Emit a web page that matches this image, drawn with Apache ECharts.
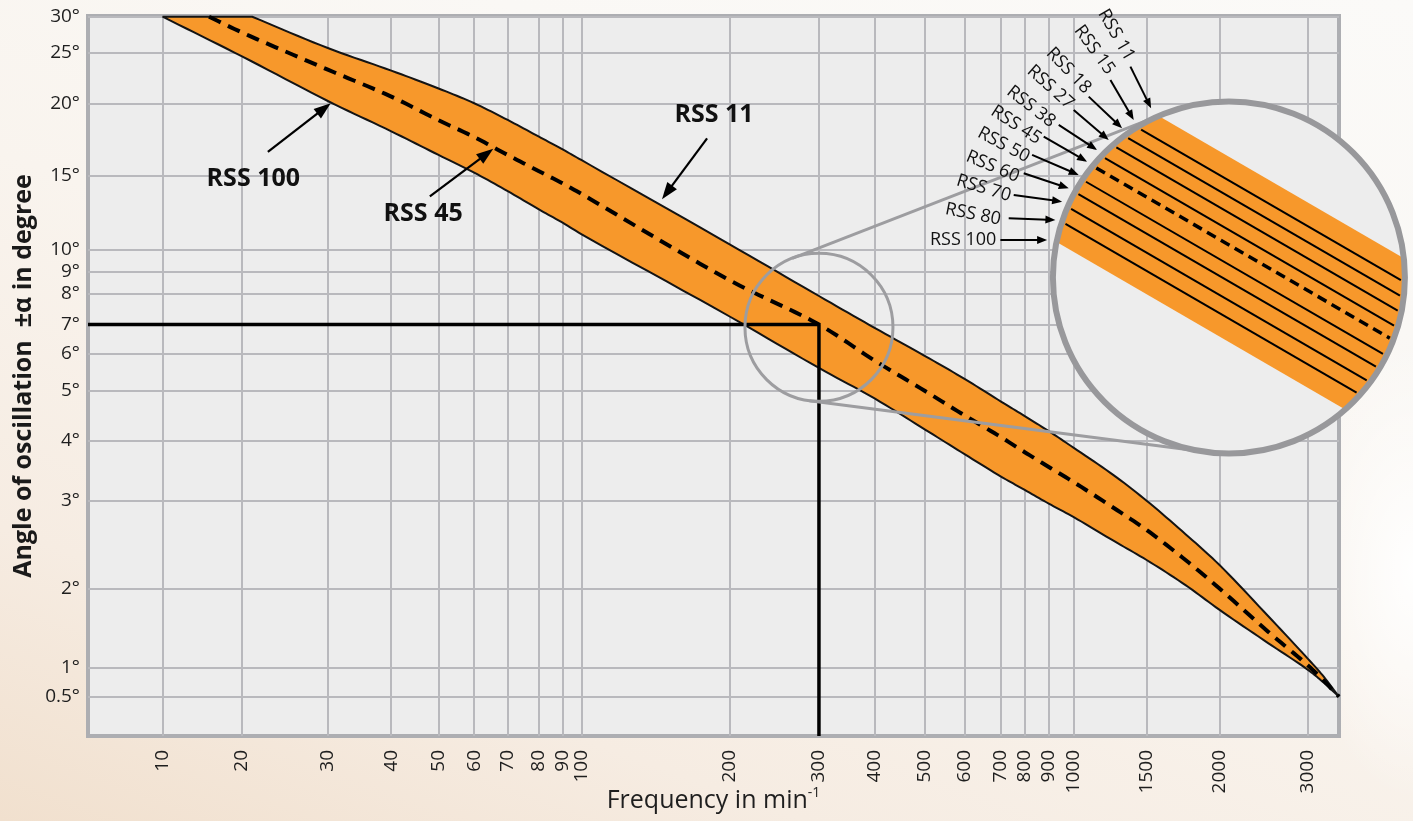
<!DOCTYPE html>
<html>
<head>
<meta charset="utf-8">
<script src="https://cdn.jsdelivr.net/npm/echarts@6/dist/echarts.min.js"></script>
<style>
html,body{margin:0;padding:0;width:1413px;height:821px;overflow:hidden;}
body{background:
  radial-gradient(ellipse 110px 230px at 1413px 570px, rgba(255,255,255,0.95), rgba(255,255,255,0) 100%),
  linear-gradient(20deg,#f1e0ce 0%,#f6ece2 22%,#f9f4ee 50%,#faf8f5 75%,#fbfaf8 100%);}
#chart{width:1413px;height:821px;}
</style>
</head>
<body>
<div id="chart"></div>
<script>
// ---------------- data ----------------
// tick labels
const freqTicks  = [10,20,30,40,50,60,70,80,90,100,200,300,400,500,600,700,800,900,1000,1500,2000,3000];
const angleTicks = [0.5,1,2,3,4,5,6,7,8,9,10,15,20,25,30];

// non-uniform nomogram scales: axis value -> percent along the axis
const freqScaleValues  = [5,10,20,30,40,50,60,70,80,90,100,200,300,400,500,600,700,800,900,1000,1500,2000,3000,3450];
const freqScalePct     = [0,5.96,12.31,19.17,24.24,28.02,30.87,33.55,36.01,37.94,39.43,51.29,58.43,62.91,66.91,70.10,72.98,74.88,76.80,78.80,84.62,90.43,97.52,100];
const angleScaleValues = [0.25,0.5,1,2,3,4,5,6,7,8,9,10,15,20,25,30];
const angleScalePct    = [0,5.46,9.49,20.51,32.68,40.97,47.92,53.06,57.15,61.39,64.49,67.54,77.78,87.88,94.90,99.9];

// curves: [frequency min^-1, angle deg]
const rss11  = [[21,30],[30,25.6],[40,23.1],[50,21.35],[60,20.0],[70,18.72],[80,17.54],[90,16.66],[100,15.98],[200,10.3],[300,7.93],[400,6.87],[500,5.94],[600,5.3],[700,4.77],[800,4.47],[900,4.18],[1000,3.87],[1250,3.39],[1500,3.0],[1750,2.57],[2000,2.23],[2500,1.57],[3000,1.08],[3200,0.84],[3450,0.5]];
const rss45  = [[15,30],[20,27.7],[30,23.2],[40,20.6],[50,18.7],[60,17.5],[70,16.3],[80,15.3],[90,14.4],[100,13.6],[200,8.6],[300,7.0],[400,5.8],[500,5.0],[600,4.48],[700,4.07],[800,3.79],[900,3.53],[1000,3.28],[1250,2.9],[1500,2.62],[1750,2.28],[2000,2.0],[2500,1.37],[3000,1.02],[3200,0.76],[3450,0.5]];
const rss100 = [[10,30],[20,24.6],[30,20.2],[40,17.9],[50,16.3],[60,15.2],[70,13.8],[80,12.5],[90,11.6],[100,10.9],[200,7.25],[300,5.6],[400,4.83],[500,4.21],[600,3.75],[700,3.37],[800,3.16],[900,2.96],[1000,2.78],[1250,2.49],[1500,2.28],[1750,2.03],[2000,1.66],[2500,1.24],[3000,0.95],[3200,0.72],[3450,0.5]];

// reading example: 300 min^-1 -> 7 deg
const refPoint = [300, 7];

// curve annotations (data units)
const noteNames     = ['RSS 100','RSS 45','RSS 11'];
const noteLabelAt   = [[21.1,14.8],[46.5,12.2],[186,19.1]];
const noteArrowFrom = [[22.6,16.5],[48.0,13.4],[180,17.4]];
const noteArrowTo   = [[30.4,20.0],[65.5,16.7],[145.8,13.2]];

// magnifier: spot that is magnified and where the lens sits (data units)
const lensSpot = [300, 6.9];
const lensAt   = [2090, 8.73];
const lensNames = ['RSS 11','RSS 15','RSS 18','RSS 27','RSS 38','RSS 45','RSS 50','RSS 60','RSS 70','RSS 80','RSS 100'];

// ---------------- layout / style (pixels, relative to lens centre) ----------------
const lensLabelLayout = [
  {t:[-112.7,-242.5],r:60,f:[-98.5,-210.8],to:[-77.8,-169.2]},
  {t:[-134.5,-227.5],r:54,f:[-118.5,-197.5],to:[-95.2,-157.5]},
  {t:[-160.2,-206.8],r:46,f:[-140.2,-180.8],to:[-106.8,-149.2]},
  {t:[-178.5,-190.2],r:42,f:[-155.2,-167.5],to:[-120.2,-137.5]},
  {t:[-197.8,-170.8],r:38,f:[-170.2,-152.5],to:[-131.8,-127.5]},
  {t:[-212.8,-152.5],r:33,f:[-185.2,-140.8],to:[-141.8,-115.8]},
  {t:[-225.2,-132.5],r:28,f:[-196.8,-122.5],to:[-150.2,-102.5]},
  {t:[-236.2,-110.8],r:23,f:[-205.2,-104.2],to:[-160.2,-89.2]},
  {t:[-245.2,-89.2], r:17,f:[-215.2,-82.5], to:[-166.8,-75.8]},
  {t:[-255.8,-63.2], r:11,f:[-220.2,-59.2], to:[-173.5,-57.5]},
  {t:[-265.8,-37.5], r:0, f:[-228.5,-37.5], to:[-181.8,-37.5]}
];
const lensBandV = [-120.7, 64.5];
const lensLinesV = [-97,-81,-64.8,-47.5,-32.6,-12.8,4,23,41.2];
const lensDashedIndex = 4;

const ORANGE = '#f7982b';
const FONT = '"Open Sans", "DejaVu Sans", sans-serif';

// ---------------- scales ----------------
function interpScale(v, vals, pcts) {
  let i = 0;
  while (i < vals.length - 2 && v > vals[i + 1]) i++;
  const t = Math.log(v / vals[i]) / Math.log(vals[i + 1] / vals[i]);
  return pcts[i] + t * (pcts[i + 1] - pcts[i]);
}
const fx = f => interpScale(f, freqScaleValues, freqScalePct);
const fy = a => interpScale(a, angleScaleValues, angleScalePct);
const toXY = p => [fx(p[0]), fy(p[1])];

const xTickPos = freqTicks.map(fx);
const yTickPos = angleTicks.map(fy);
function nearestLabel(v, pos, labels) {
  let best = 0, bd = Infinity;
  pos.forEach((p, i) => { const d = Math.abs(p - v); if (d < bd) { bd = d; best = i; } });
  return labels[best];
}

// centripetal Catmull-Rom rendering of a curve through its pixel points
function smoothPath(pts, steps) {
  const n = pts.length, out = [pts[0]];
  const get = i => {
    if (i < 0) return [2 * pts[0][0] - pts[1][0], 2 * pts[0][1] - pts[1][1]];
    if (i >= n) return [2 * pts[n - 1][0] - pts[n - 2][0], 2 * pts[n - 1][1] - pts[n - 2][1]];
    return pts[i];
  };
  const dist = (a, b) => Math.max(1e-6, Math.pow(Math.hypot(b[0] - a[0], b[1] - a[1]), 0.5));
  for (let i = 0; i < n - 1; i++) {
    const P0 = get(i - 1), P1 = get(i), P2 = get(i + 1), P3 = get(i + 2);
    const t0 = 0, t1 = t0 + dist(P0, P1), t2 = t1 + dist(P1, P2), t3 = t2 + dist(P2, P3);
    for (let k = 1; k <= steps; k++) {
      const t = t1 + (t2 - t1) * k / steps;
      const mix = (a, b, ta, tb) => [((tb - t) * a[0] + (t - ta) * b[0]) / (tb - ta), ((tb - t) * a[1] + (t - ta) * b[1]) / (tb - ta)];
      const A1 = mix(P0, P1, t0, t1), A2 = mix(P1, P2, t1, t2), A3 = mix(P2, P3, t2, t3);
      const B1 = mix(A1, A2, t0, t2), B2 = mix(A2, A3, t1, t3);
      out.push(mix(B1, B2, t1, t2));
    }
  }
  return out;
}

function arrow(x1, y1, x2, y2, len, w, lw) {
  const ang = Math.atan2(y2 - y1, x2 - x1);
  const bx = x2 - len * Math.cos(ang), by = y2 - len * Math.sin(ang);
  const px = -Math.sin(ang) * w / 2, py = Math.cos(ang) * w / 2;
  return [
    {type: 'line', shape: {x1, y1, x2: bx + Math.cos(ang) * 2, y2: by + Math.sin(ang) * 2}, style: {stroke: '#000', lineWidth: lw}},
    {type: 'polygon', shape: {points: [[x2, y2], [bx + px, by + py], [bx - px, by - py]]}, style: {fill: '#000'}}
  ];
}

function renderBand(params, api) {
  const lo = smoothPath(rss100.map(p => api.coord(toXY(p))), 10);
  const up = smoothPath(rss11.map(p => api.coord(toXY(p))), 10);
  const mid = smoothPath(rss45.map(p => api.coord(toXY(p))), 10);
  return {type: 'group', children: [
    {type: 'polygon', shape: {points: lo.concat(up.slice().reverse())}, style: {fill: ORANGE, stroke: '#141414', lineWidth: 2, lineJoin: 'miter', miterLimit: 4}},
    {type: 'polyline', shape: {points: mid}, style: {fill: 'none', stroke: '#000', lineWidth: 4, lineDash: [13, 8]}}
  ]};
}

function renderLens(params, api) {
  const c = api.coord(toXY(lensAt));
  const s = api.coord(toXY(lensSpot));
  const R = 176, r = 74;
  const kids = [];
  const dx = c[0] - s[0], dy = c[1] - s[1];
  const d = Math.hypot(dx, dy), a = Math.atan2(dy, dx), phi = Math.asin((R - r) / d);
  [-1, 1].forEach(sg => {
    const ang = a + sg * (Math.PI / 2 + phi);
    kids.push({type: 'line', shape: {x1: s[0] + r * Math.cos(ang), y1: s[1] + r * Math.sin(ang), x2: c[0] + R * Math.cos(ang), y2: c[1] + R * Math.sin(ang)},
      style: {stroke: '#9d9da0', lineWidth: 3}});
  });
  kids.push({type: 'circle', shape: {cx: s[0], cy: s[1], r: r}, style: {fill: 'none', stroke: '#9d9da0', lineWidth: 3}});
  kids.push({type: 'circle', shape: {cx: c[0], cy: c[1], r: R}, style: {fill: '#ededed'}});
  const th = Math.atan(0.58);
  const t = [Math.cos(th), Math.sin(th)], n = [-Math.sin(th), Math.cos(th)];
  const Rin = R - 2;
  const d1 = lensBandV[0] * Math.cos(th), d2 = lensBandV[1] * Math.cos(th);
  const poly = [];
  const N = 40;
  for (let i = 0; i <= N; i++) {
    const b = d1 + (d2 - d1) * i / N, aa = Math.sqrt(Rin * Rin - b * b);
    poly.push([c[0] + aa * t[0] + b * n[0], c[1] + aa * t[1] + b * n[1]]);
  }
  for (let i = N; i >= 0; i--) {
    const b = d1 + (d2 - d1) * i / N, aa = -Math.sqrt(Rin * Rin - b * b);
    poly.push([c[0] + aa * t[0] + b * n[0], c[1] + aa * t[1] + b * n[1]]);
  }
  kids.push({type: 'polygon', shape: {points: poly}, style: {fill: ORANGE}});
  lensLinesV.forEach((v, i) => {
    const b = v * Math.cos(th), aa = Math.sqrt((R - 4) * (R - 4) - b * b);
    kids.push({type: 'line', shape: {
      x1: c[0] - aa * t[0] + b * n[0], y1: c[1] - aa * t[1] + b * n[1],
      x2: c[0] + aa * t[0] + b * n[0], y2: c[1] + aa * t[1] + b * n[1]},
      style: i === lensDashedIndex ? {stroke: '#000', lineWidth: 3.5, lineDash: [10, 6]} : {stroke: '#000', lineWidth: 2}});
  });
  kids.push({type: 'circle', shape: {cx: c[0], cy: c[1], r: R}, style: {fill: 'none', stroke: '#98989b', lineWidth: 6}});
  lensNames.forEach((name, i) => {
    const L = lensLabelLayout[i];
    kids.push({type: 'text', x: c[0] + L.t[0], y: c[1] + L.t[1], rotation: -L.r * Math.PI / 180,
      style: {text: name, fontSize: 18, fontFamily: FONT, fill: '#111', align: 'center', verticalAlign: 'middle'}});
    arrow(c[0] + L.f[0], c[1] + L.f[1], c[0] + L.to[0], c[1] + L.to[1], 10, 8, 2).forEach(e => kids.push(e));
  });
  return {type: 'group', children: kids};
}

function renderNotes(params, api) {
  const kids = [];
  noteNames.forEach((name, i) => {
    const p = api.coord(toXY(noteLabelAt[i]));
    kids.push({type: 'text', x: p[0], y: p[1], style: {text: name, fontSize: 25, fontWeight: 'bold', fontFamily: FONT, fill: '#111', align: 'center', verticalAlign: 'middle'}});
    const f = api.coord(toXY(noteArrowFrom[i])), to = api.coord(toXY(noteArrowTo[i]));
    arrow(f[0], f[1], to[0], to[1], 17, 12, 2.2).forEach(e => kids.push(e));
  });
  return {type: 'group', children: kids};
}

const chart = echarts.init(document.getElementById('chart'));
const labelStyle = {fontSize: 19, color: '#1e1e1e', fontFamily: FONT};
chart.setOption({
  backgroundColor: 'transparent',
  animation: false,
  grid: {left: 88, top: 16, width: 1251, height: 720, show: true, backgroundColor: '#ededed', borderColor: '#adaeb2', borderWidth: 4,
         containLabel: false, outerBoundsMode: 'none'},
  xAxis: {
    type: 'value', min: 0, max: 100,
    axisLine: {show: false},
    axisTick: {show: false, customValues: xTickPos},
    splitLine: {show: true, lineStyle: {color: '#b9b9bd', width: 2}},
    axisLabel: Object.assign({customValues: xTickPos, rotate: 90, margin: 14, formatter: v => String(nearestLabel(v, xTickPos, freqTicks))}, labelStyle),
    name: '{a|Frequency in min}{b|-1}', nameLocation: 'middle', nameGap: 50, nameMoveOverlap: false,
    nameTextStyle: {rich: {a: {fontSize: 25, fontFamily: FONT, color: '#1e1e1e', lineHeight: 30}, b: {fontSize: 14, fontFamily: FONT, color: '#1e1e1e', verticalAlign: 'top', lineHeight: 30}}}
  },
  yAxis: {
    type: 'value', min: 0, max: 100,
    axisLine: {show: false},
    axisTick: {show: false, customValues: yTickPos},
    splitLine: {show: true, lineStyle: {color: '#b9b9bd', width: 2}},
    axisLabel: Object.assign({customValues: yTickPos, margin: 8, formatter: v => nearestLabel(v, yTickPos, angleTicks) + '°'}, labelStyle),
    name: 'Angle of oscillation  ±α in degree', nameLocation: 'middle', nameGap: 52, nameMoveOverlap: false,
    nameTextStyle: {fontSize: 25, fontWeight: 'bold', fontFamily: FONT, color: '#1a1a1a'}
  },
  series: [
    {type: 'custom', name: 'RSS band', z: 2, silent: true, clip: false, data: [[0, 0]], renderItem: renderBand},
    {type: 'line', name: 'reading', z: 4, silent: true, showSymbol: false,
      data: [[0, fy(refPoint[1])], [fx(refPoint[0]), fy(refPoint[1])], [fx(refPoint[0]), 0]],
      lineStyle: {color: '#000', width: 3.5}},
    {type: 'custom', name: 'lens', z: 5, silent: true, clip: false, data: [[0, 0]], renderItem: renderLens},
    {type: 'custom', name: 'notes', z: 6, silent: true, clip: false, data: [[0, 0]], renderItem: renderNotes}
  ]
});
</script>
</body>
</html>
